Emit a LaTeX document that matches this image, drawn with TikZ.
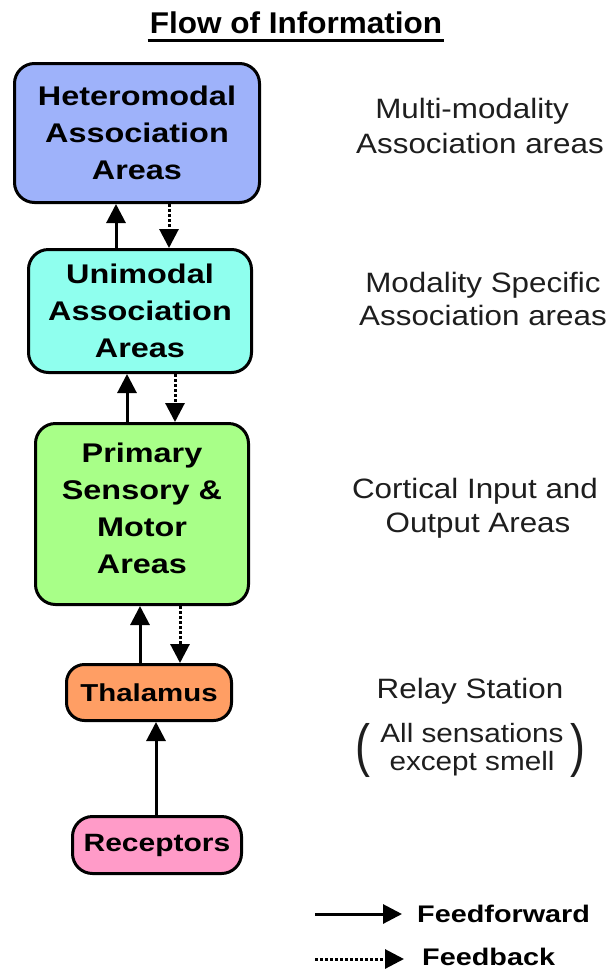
\documentclass[tikz,border=0pt]{standalone}
\usepackage{fontspec}
\usetikzlibrary{arrows.meta}
\newfontfamily\bxfont[FakeStretch=1.2]{Liberation Sans}
\newfontfamily\rfont[FakeStretch=1.12]{Liberation Sans}
\newfontfamily\ttlfont[FakeStretch=1.05]{Liberation Sans}
\definecolor{hetero}{RGB}{158,178,250}
\definecolor{unimodal}{RGB}{143,255,238}
\definecolor{primary}{RGB}{168,255,136}
\definecolor{thal}{RGB}{255,158,100}
\definecolor{recep}{RGB}{255,155,200}
\definecolor{labelgray}{RGB}{30,30,30}
\begin{document}
\begin{tikzpicture}[x=1pt,y=-1pt,
  box/.style={draw=black, line width=3pt, rounded corners=20pt, inner sep=0pt, align=center,
    font=\bxfont\bfseries\fontsize{27}{37}\selectfont},
  lbl/.style={anchor=base, text=labelgray, inner sep=0pt, font=\rfont\fontsize{28}{34}\selectfont},
  smalllbl/.style={lbl, font=\rfont\fontsize{26.5}{30}\selectfont},
  paren/.style={text=labelgray, inner sep=0pt, font=\rfont\fontsize{40}{40}\selectfont},
  legtxt/.style={anchor=base west, inner sep=0pt, font=\bxfont\bfseries\fontsize{24}{28}\selectfont},
  ff/.style={line width=3pt, -{Triangle[length=19pt,width=19pt]}},
  fb/.style={line width=3pt, dash pattern=on 2.5pt off 2.5pt, -{Triangle[length=19pt,width=19pt]}}
]
\useasboundingbox (0,0) rectangle (612,975);
\fill[white] (0,0) rectangle (612,975);

% title
\node[anchor=base, inner sep=0pt, font=\ttlfont\bfseries\fontsize{30}{36}\selectfont] (title) at (296,33) {Flow of Information};
\draw[line width=3pt] ([xshift=-2pt,yshift=-7pt]title.base west) -- ([xshift=2pt,yshift=-7pt]title.base east);

% boxes
\node[box, fill=hetero, minimum width=245pt, minimum height=139pt] (b1) at (137,133) {Heteromodal\\Association\\Areas};
\node[box, fill=unimodal, minimum width=223pt, minimum height=123pt] (b2) at (140,311) {Unimodal\\Association\\Areas};
\node[box, fill=primary, minimum width=213pt, minimum height=181pt, text depth=12pt] (b3) at (142,514) {Primary\\Sensory \&\\Motor\\Areas};
\node[box, fill=thal, minimum width=165pt, minimum height=56pt, rounded corners=18pt,
  font=\bxfont\bfseries\fontsize{24.5}{30}\selectfont] (th) at (149,692.5) {Thalamus};
\node[box, fill=recep, minimum width=169pt, minimum height=57pt,
  font=\bxfont\bfseries\fontsize{25}{30}\selectfont] (rc) at (157,845) {Receptors};

% connectors
\draw[ff] (b2.north -| 116,0) -- (b1.south -| 116,0);
\draw[fb] (b1.south -| 169,0) -- (b2.north -| 169,0);
\draw[ff] (b3.north -| 127,0) -- (b2.south -| 127,0);
\draw[fb] (b2.south -| 175,0) -- (b3.north -| 175,0);
\draw[ff] (th.north -| 140,0) -- (b3.south -| 140,0);
\draw[fb] (b3.south -| 180,0) -- (th.north -| 180,0);
\draw[ff] (rc.north -| 156,0) -- (th.south -| 156,0);

% right labels
\node[lbl] (l1a) at (472,118) {Multi-modality};
\node[lbl] (l1b) at (480,153) {Association areas};
\node[lbl] (l2a) at (483,292.5) {Modality Specific};
\node[lbl] (l2b) at (483,325) {Association areas};
\node[lbl] (l3a) at (475,498) {Cortical Input and};
\node[lbl] (l3b) at (478,532) {Output Areas};
\node[lbl] (l4a) at (470,698) {Relay Station};
\node[smalllbl] (l4b) at (472,742) {All sensations};
\node[smalllbl] (l4c) at (472,770) {except smell};
\node[paren] (pl) at (363,750) {\scalebox{1}[1.45]{(}};
\node[paren] (pr) at (578,750) {\scalebox{1}[1.45]{)}};

% legend
\coordinate (fa1) at (315,914);
\coordinate (fa2) at (402,914);
\draw[ff] (fa1) -- (fa2);
\node[legtxt] (lf) at (417,922) {Feedforward};
\coordinate (fb1) at (315,959);
\coordinate (fb2) at (404,959);
\draw[fb] (fb1) -- (fb2);
\node[legtxt] (lb) at (422,965) {Feedback};
\end{tikzpicture}
\end{document}
